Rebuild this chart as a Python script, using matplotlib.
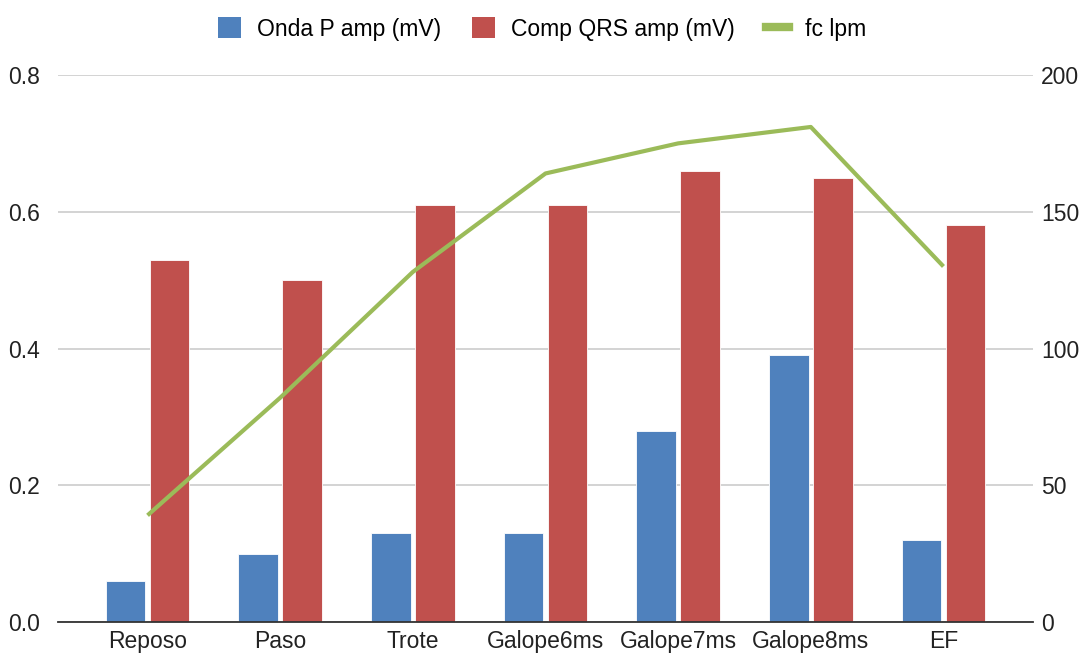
"""Onda P / QRS amplitude vs heart rate by gait"""

import numpy as np
import matplotlib.pyplot as plt
from matplotlib.patches import Patch
from matplotlib.lines import Line2D

plt.rcParams['font.family'] = ['Liberation Sans', 'DejaVu Sans']

categories = ['Reposo', 'Paso', 'Trote', 'Galope6ms', 'Galope7ms', 'Galope8ms', 'EF']
onda_p = [0.06, 0.10, 0.13, 0.13, 0.28, 0.39, 0.12]
comp_qrs = [0.53, 0.50, 0.61, 0.61, 0.66, 0.65, 0.58]
fc_lpm = [39, 82, 128, 164, 175, 181, 130]

left_ticks = [0.0, 0.2, 0.4, 0.6, 0.8]
right_ticks = [0, 50, 100, 150, 200]

BLUE = '#4F81BD'
RED = '#C0504D'
GREEN = '#9BBB59'
FS = 16.5

fig = plt.figure(figsize=(10.84, 6.54), dpi=100)
ax = fig.add_axes([58 / 1084, 1 - 622 / 654, (1033 - 58) / 1084, (622 - 75) / 654])

x = np.arange(len(categories))
w = 0.30
off = 0.166
ax.bar(x - off, onda_p, width=w, color=BLUE, edgecolor='white', linewidth=0.6, zorder=3)
ax.bar(x + off, comp_qrs, width=w, color=RED, edgecolor='white', linewidth=0.6, zorder=3)

ax.set_ylim(0, 0.8)
ax.set_xlim(-0.675, len(categories) - 0.325)
ax.set_yticks(left_ticks)
ax.set_yticklabels([f'{v:.1f}' for v in left_ticks], fontsize=FS, color='#222222')
ax.set_xticks(x)
ax.set_xticklabels(categories, fontsize=FS, color='#222222')
ax.tick_params(axis='both', length=0)
ax.tick_params(axis='x', pad=6)
ax.tick_params(axis='y', pad=13)
ax.grid(axis='y', color='#cccccc', linewidth=1.2, zorder=0)
for s in ['top', 'right', 'left']:
    ax.spines[s].set_visible(False)
ax.spines['bottom'].set_color('#333333')
ax.spines['bottom'].set_linewidth(1.3)
ax.spines['bottom'].set_zorder(4)

ax2 = ax.twinx()
ax2.plot(x, fc_lpm, color=GREEN, linewidth=3, solid_capstyle='butt', zorder=5)
ax2.set_ylim(0, 200)
ax2.set_yticks(right_ticks)
ax2.set_yticklabels([str(v) for v in right_ticks], fontsize=FS, color='#222222')
ax2.tick_params(axis='y', length=0, pad=6)
for s in ['top', 'right', 'left', 'bottom']:
    ax2.spines[s].set_visible(False)

handles = [
    Patch(facecolor=BLUE, label='Onda P amp (mV)'),
    Patch(facecolor=RED, label='Comp QRS amp (mV)'),
    Line2D([], [], color=GREEN, linewidth=6, label='fc lpm'),
]
fig.legend(handles=handles, loc='center', bbox_to_anchor=(0.5, 1 - 29 / 654), ncol=3,
           frameon=False, fontsize=FS, handlelength=1.0, handleheight=1.0,
           handletextpad=0.7, columnspacing=1.35)

fig.savefig('out.png', dpi=100)
